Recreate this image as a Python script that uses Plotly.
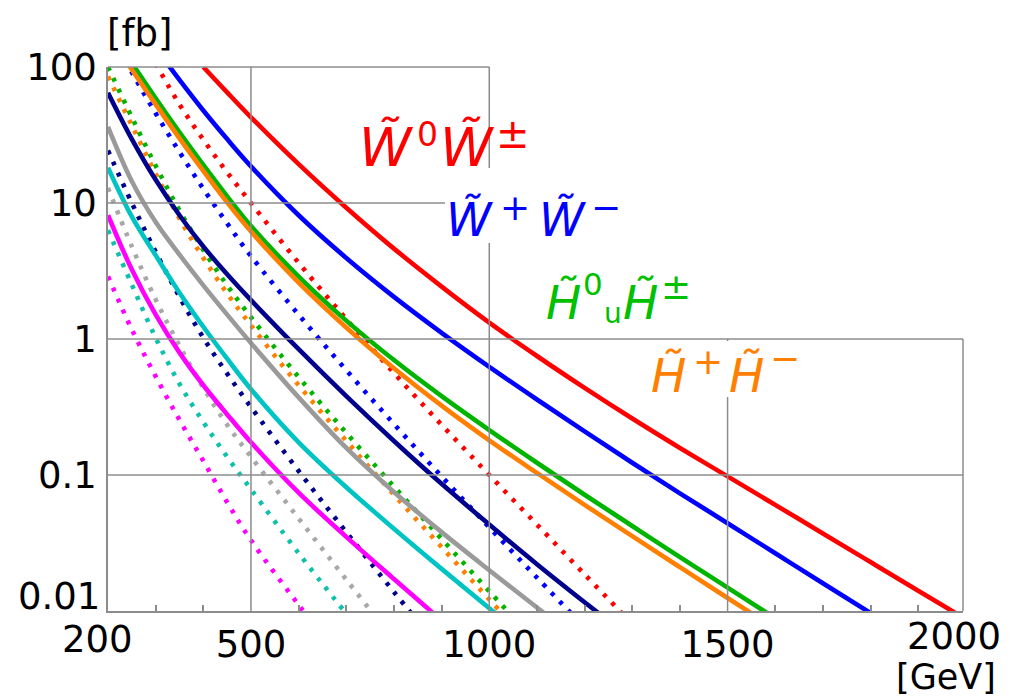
import math
import plotly.graph_objects as go

# ---- data: production cross sections [fb] versus mass [GeV] ----
MASS = [200, 250, 300, 350, 400, 450, 500, 600, 700, 800, 900, 1000,
        1100, 1200, 1300, 1400, 1500, 1600, 1700, 1800, 1900, 2000]

# solid curves
XS_W0_WPM = [None, None, None, None, 100, 65, 42.7, 19.3, 9.23, 4.62, 2.43, 1.32,
             0.75, 0.437, 0.26, 0.158, 0.0977, 0.0603, 0.0372, 0.0229, 0.0141, 0.0087]
XS_WP_WM = [None, None, 138, 80.4, 47.9, 29.5, 18.6, 8.13, 3.94, 2.04, 1.11, 0.624,
            0.359, 0.209, 0.123, 0.0733, 0.0442, 0.0266, 0.016, 0.00966, None, None]
XS_H0U_HPM = [None, 107, 58.9, 33.1, 19.05, 11.2, 6.76, 2.88, 1.365, 0.70, 0.38, 0.214,
              0.123, 0.0716, 0.0422, 0.0249, 0.01486, 0.00885, None, None, None, None]
XS_HP_HM = [174, 95.5, 53.1, 29.9, 17.2, 10.1, 6.17, 2.6, 1.216, 0.61, 0.324, 0.18,
            0.1035, 0.0603, 0.0355, 0.021, 0.01247, 0.00743, None, None, None, None]
XS_NAVY = [64.6, 29.5, 14.8, 8.13, 4.79, 2.99, 1.93, 0.841, 0.380, 0.178, 0.0861, 0.0432,
           0.0221, 0.0116, 0.00617, None, None, None, None, None, None, None]
XS_GRAY = [36.3, 14.45, 7.24, 4.17, 2.48, 1.51, 0.933, 0.372, 0.158, 0.075, 0.038, 0.01995,
           0.0106, 0.00569, None, None, None, None, None, None, None, None]
XS_CYAN = [18.2, 7.94, 4.12, 2.19, 1.23, 0.716, 0.427, 0.174, 0.0813, 0.0403, 0.0204, 0.01047,
           0.00543, None, None, None, None, None, None, None, None, None]
XS_MAGENTA = [8.13, 3.24, 1.51, 0.794, 0.457, 0.279, 0.174, 0.0741, 0.0351, 0.0172, 0.00851, None,
              None, None, None, None, None, None, None, None, None, None]

# dotted curves
XS_W0_WPM_DOT = [None, None, 106, 53.1, 29.2, 16.8, 10.0, 3.63, 1.40, 0.562, 0.234, 0.100,
                 0.0432, 0.0186, 0.00804, None, None, None, None, None, None, None]
XS_WP_WM_DOT = [190, 91.2, 45.7, 23.7, 12.7, 7.08, 4.07, 1.51, 0.589, 0.237, 0.0977, 0.0412,
                0.0176, 0.00759, None, None, None, None, None, None, None, None]
XS_H0U_HPM_DOT = [100, 42.7, 18.8, 8.81, 4.52, 2.48, 1.445, 0.525, 0.204, 0.0822, 0.0339, 0.01396,
                  0.00582, None, None, None, None, None, None, None, None, None]
XS_HP_HM_DOT = [85.1, 37.2, 16.4, 7.67, 3.94, 2.16, 1.26, 0.457, 0.178, 0.0716, 0.0295, 0.01216,
                0.00507, None, None, None, None, None, None, None, None, None]
XS_NAVY_DOT = [24.3, 10.0, 4.37, 2.04, 1.02, 0.556, 0.316, 0.107, 0.038, 0.0138, 0.00513, None,
               None, None, None, None, None, None, None, None, None, None]
XS_GRAY_DOT = [12.9, 4.79, 1.95, 0.891, 0.437, 0.234, 0.136, 0.0479, 0.017, 0.0061, None, None,
               None, None, None, None, None, None, None, None, None, None]
XS_CYAN_DOT = [6.31, 2.51, 1.02, 0.468, 0.245, 0.136, 0.0785, 0.0266, 0.00955, None, None, None,
               None, None, None, None, None, None, None, None, None, None]
XS_MAGENTA_DOT = [2.88, 1.175, 0.531, 0.254, 0.127, 0.0631, 0.0331, 0.0111, 0.00394, None, None, None,
                  None, None, None, None, None, None, None, None, None, None]

X_TICKS = [500, 1000, 1500]
X_MINOR = [300, 400, 600, 700, 800, 900, 1100, 1200, 1300, 1400, 1600, 1700, 1800, 1900]
Y_TICKS = [100, 10, 1, 0.1]

# ---- colours and fonts ----
RED, BLUE, GREEN, ORANGE = "#ff0000", "#0000ff", "#00b400", "#ff8000"
NAVY, GRAY, CYAN, MAGENTA = "#00008c", "#9a9a9a", "#00c4c4", "#ff00ff"
CYAN_DOT, GRAY_DOT = "#10c0ac", "#a8a8a8"
LABEL_GREEN = "#00c000"
FRAME = "#8c8c8c"
FONT = "DejaVu Sans"
TILDE = "\u0303"

# ---- canvas geometry ----
W, H = 1013, 698
ML, MR, MT, MB = 108, 50, 67, 87
PW, PH = W - ML - MR, H - MT - MB
X_RANGE = [200, 1994]
Y_LOG = [-2, 2]


def paper(px, py):
    return (px - ML) / PW, (H - MB - py) / PH


def ypaper(v):
    return (math.log10(v) - Y_LOG[0]) / (Y_LOG[1] - Y_LOG[0])


fig = go.Figure()

dotted = [
    (XS_MAGENTA_DOT, MAGENTA), (XS_CYAN_DOT, CYAN_DOT), (XS_GRAY_DOT, GRAY_DOT),
    (XS_NAVY_DOT, NAVY), (XS_HP_HM_DOT, ORANGE), (XS_H0U_HPM_DOT, GREEN),
    (XS_WP_WM_DOT, BLUE), (XS_W0_WPM_DOT, RED),
]
for ys, col in dotted:
    fig.add_trace(go.Scatter(x=MASS, y=ys, mode="lines", showlegend=False,
                             hoverinfo="skip",
                             line=dict(color=col, width=4.6, dash="4px,8px",
                                       shape="spline", smoothing=1.0)))

solid = [
    (XS_MAGENTA, MAGENTA), (XS_CYAN, CYAN), (XS_GRAY, GRAY), (XS_NAVY, NAVY),
    (XS_WP_WM, BLUE), (XS_H0U_HPM, GREEN), (XS_HP_HM, ORANGE), (XS_W0_WPM, RED),
]
for ys, col in solid:
    fig.add_trace(go.Scatter(x=MASS, y=ys, mode="lines", showlegend=False,
                             hoverinfo="skip",
                             line=dict(color=col, width=4.6,
                                       shape="spline", smoothing=1.0)))

# ---- frame and grid (the upper-right quadrant is left open) ----
line_style = dict(color=FRAME, width=1.5)
shapes = [
    dict(type="line", xref="x", yref="paper", x0=X_RANGE[0], x1=1000, y0=1, y1=1, line=line_style),
    dict(type="line", xref="paper", yref="paper", x0=1, x1=1, y0=0, y1=ypaper(1), line=line_style),
    dict(type="line", xref="x", yref="paper", x0=500, x1=500, y0=0, y1=1, line=line_style),
    dict(type="line", xref="x", yref="paper", x0=1000, x1=1000, y0=0, y1=1, line=line_style),
    dict(type="line", xref="x", yref="paper", x0=1500, x1=1500, y0=0, y1=ypaper(1), line=line_style),
    dict(type="line", xref="x", yref="paper", x0=X_RANGE[0], x1=1000, y0=ypaper(10), y1=ypaper(10), line=line_style),
    dict(type="line", xref="x", yref="paper", x0=X_RANGE[0], x1=X_RANGE[1], y0=ypaper(1), y1=ypaper(1), line=line_style),
    dict(type="line", xref="x", yref="paper", x0=X_RANGE[0], x1=X_RANGE[1], y0=ypaper(0.1), y1=ypaper(0.1), line=line_style),
]

# white backing behind two of the labels
for (l, t, r, b) in [(445, 168, 622, 243), (648, 341, 800, 397)]:
    x0, y0 = paper(l, b)
    x1, y1 = paper(r, t)
    shapes.append(dict(type="rect", xref="paper", yref="paper", x0=x0, x1=x1, y0=y0, y1=y1,
                       fillcolor="white", line=dict(width=0), layer="above"))

annotations = []


def text_at(txt, px, py, size, color="black", xanchor="center", yanchor="middle"):
    xp, yp = paper(px, py)
    annotations.append(dict(text=txt, x=xp, y=yp, xref="paper", yref="paper",
                            xanchor=xanchor, yanchor=yanchor, showarrow=False,
                            borderpad=0, borderwidth=0,
                            font=dict(family=FONT, size=size, color=color)))


# axis captions and end tick labels
text_at("[fb]", 107, 33, 37, xanchor="left")
text_at("[GeV]", 946, 677, 35)
text_at("0.01", 100, 596, 37, xanchor="right")
text_at("200", 97, 639, 37)
text_at("2000", 954, 636, 37)

# W~0 W~±
text_at("<i>W" + TILDE + "</i>", 386, 147, 53, RED)
text_at("0", 427, 134, 33, RED)
text_at("<i>W" + TILDE + "</i>", 467, 147, 53, RED)
text_at("±", 513, 134, 40, RED)

# W~+ W~-
text_at("<i>W" + TILDE + "</i>", 469, 220, 46, BLUE)
text_at("+", 515, 208, 36, BLUE)
text_at("<i>W" + TILDE + "</i>", 562, 220, 46, BLUE)
text_at("\u2212", 606, 207, 36, BLUE)

# H~0_u H~±
text_at("<i>H" + TILDE + "</i>", 563, 302, 47, LABEL_GREEN)
text_at("0", 593, 284, 31, LABEL_GREEN)
text_at("u", 613, 313, 28, LABEL_GREEN)
text_at("<i>H" + TILDE + "</i>", 640, 302, 47, LABEL_GREEN)
text_at("±", 676, 286, 36, LABEL_GREEN)

# H~+ H~-
text_at("<i>H" + TILDE + "</i>", 668, 375, 47, ORANGE)
text_at("+", 708, 361, 36, ORANGE)
text_at("<i>H" + TILDE + "</i>", 746, 375, 47, ORANGE)
text_at("\u2212", 785, 358, 36, ORANGE)

tick_font = dict(family=FONT, size=37, color="black")
fig.update_layout(
    width=W, height=H,
    margin=dict(l=ML, r=MR, t=MT, b=MB, pad=0),
    paper_bgcolor="white", plot_bgcolor="white",
    shapes=shapes, annotations=annotations,
    xaxis=dict(range=X_RANGE, showgrid=False, zeroline=False,
               showline=True, linecolor=FRAME, linewidth=1.5,
               tickmode="array", tickvals=X_TICKS, ticktext=[str(v) for v in X_TICKS],
               ticks="", tickfont=tick_font,
               minor=dict(tickmode="array", tickvals=X_MINOR, ticks="inside",
                          ticklen=6, tickwidth=1.5, tickcolor=FRAME, showgrid=False)),
    yaxis=dict(type="log", range=Y_LOG, showgrid=False, zeroline=False,
               showline=True, linecolor=FRAME, linewidth=1.5,
               tickmode="array", tickvals=Y_TICKS, ticktext=["100", "10", "1", "0.1"],
               ticks="", tickfont=tick_font, ticklabelstandoff=2),
)

fig.write_html("out.html")
